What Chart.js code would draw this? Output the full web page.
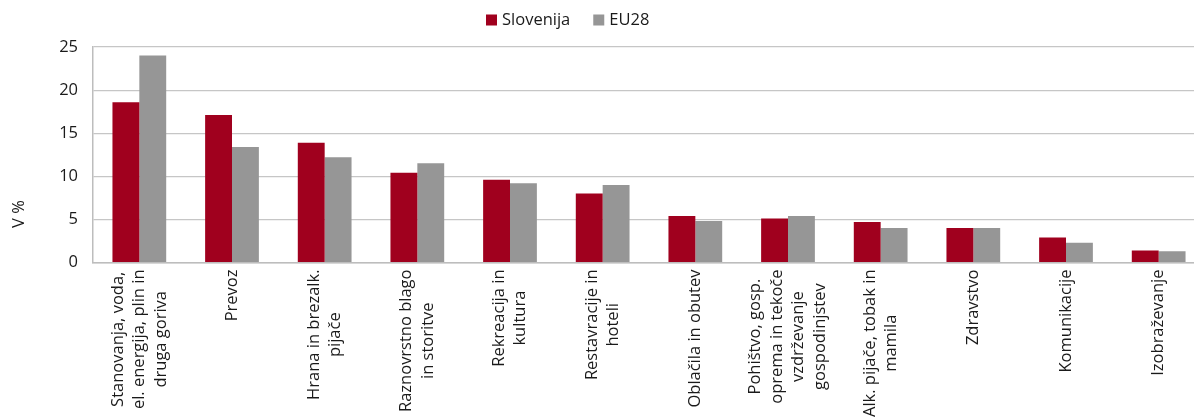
<!DOCTYPE html>
<html>
<head>
<meta charset="utf-8">
<script src="https://cdn.jsdelivr.net/npm/chart.js@4"></script>
<style>
  html, body { margin: 0; padding: 0; background: #ffffff; overflow: hidden; }
  #wrap { width: 1205px; height: 419px; }
</style>
</head>
<body>
<div id="wrap"><canvas id="c" width="1205" height="419"></canvas></div>
<script>
// ---- data ----
const categories = [
  ["Stanovanja, voda,", "el. energija, plin in", "druga goriva"],
  ["Prevoz"],
  ["Hrana in brezalk.", "pijače"],
  ["Raznovrstno blago", "in storitve"],
  ["Rekreacija in", "kultura"],
  ["Restavracije in", "hoteli"],
  ["Oblačila in obutev"],
  ["Pohištvo, gosp.", "oprema in tekoče", "vzdrževanje", "gospodinjstev"],
  ["Alk. pijače, tobak in", "mamila"],
  ["Zdravstvo"],
  ["Komunikacije"],
  ["Izobraževanje"]
];
const seriesNames = ["Slovenija", "EU28"];
const slovenija = [18.6, 17.1, 13.9, 10.4, 9.6, 8.0, 5.4, 5.1, 4.7, 4.0, 2.9, 1.4];
const eu28 = [24.0, 13.4, 12.2, 11.5, 9.2, 9.0, 4.8, 5.4, 4.0, 4.0, 2.3, 1.3];
const yTicks = [0, 5, 10, 15, 20, 25];
const yTitle = "V %";

// ---- styles ----
const FONT = '"Open Sans", "Noto Sans", sans-serif';
const FSIZE = 16.5;
const TEXT = '#1a1a1a';
const colors = ['#a0001e', '#969696'];

const xLabelPlugin = {
  id: 'xLabels',
  afterDraw(chart) {
    const ctx = chart.ctx;
    const xs = chart.scales.x;
    const lh = 21.5;
    ctx.save();
    ctx.font = FSIZE + 'px ' + FONT;
    ctx.fillStyle = TEXT;
    categories.forEach((lines, i) => {
      const x = xs.getPixelForTick(i);
      const maxW = Math.max(...lines.map(l => ctx.measureText(l).width));
      ctx.save();
      ctx.translate(x, xs.top + 7);
      ctx.rotate(-Math.PI / 2);
      ctx.textAlign = 'center';
      ctx.textBaseline = 'middle';
      lines.forEach((l, j) => {
        ctx.fillText(l, -maxW / 2, (j - (lines.length - 1) / 2) * lh);
      });
      ctx.restore();
    });
    // y axis title
    ctx.save();
    ctx.translate(19, 214);
    ctx.rotate(-Math.PI / 2);
    ctx.textAlign = 'center';
    ctx.textBaseline = 'middle';
    ctx.fillText(yTitle, 0, 0);
    ctx.restore();
    // legend
    let lx = 486;
    const ly = 20;
    ctx.textAlign = 'left';
    ctx.textBaseline = 'middle';
    chart.data.datasets.forEach(ds => {
      ctx.fillStyle = ds.backgroundColor;
      ctx.fillRect(lx, ly - 5.5, 11, 11);
      ctx.fillStyle = TEXT;
      ctx.fillText(ds.label, lx + 16, ly + 0.5);
      lx += 16 + ctx.measureText(ds.label).width + 23;
    });
    ctx.restore();
  }
};

new Chart(document.getElementById('c'), {
  type: 'bar',
  data: {
    labels: categories,
    datasets: [
      { label: seriesNames[0], data: slovenija, backgroundColor: colors[0], borderWidth: 0 },
      { label: seriesNames[1], data: eu28, backgroundColor: colors[1], borderWidth: 0 }
    ]
  },
  options: {
    responsive: false,
    animation: false,
    devicePixelRatio: 1,
    layout: { padding: { top: 47, left: 0, right: 0, bottom: 0 } },
    datasets: { bar: { categoryPercentage: 0.58, barPercentage: 1.0 } },
    plugins: { legend: { display: false }, tooltip: { enabled: false } },
    scales: {
      x: {
        type: 'category',
        grid: { display: false, drawTicks: false },
        border: { display: true, color: '#bdbdbd', width: 1.5 },
        ticks: { display: false },
        afterFit(s) { s.height = 156.5; s.paddingLeft = 0; s.paddingRight = 0; }
      },
      y: {
        min: 0, max: 25,
        afterBuildTicks(s) { s.ticks = yTicks.map(v => ({ value: v })); },
        grid: { color: '#c6c6c6', lineWidth: 1.2, drawTicks: false },
        border: { display: true, color: '#bdbdbd', width: 1.5 },
        ticks: {
          padding: 15,
          color: TEXT,
          font: { family: FONT, size: FSIZE, lineHeight: 1.2 }
        },
        afterFit(s) { s.width = 93; s.paddingTop = 0; s.paddingBottom = 0; }
      }
    }
  },
  plugins: [xLabelPlugin]
});
</script>
</body>
</html>
